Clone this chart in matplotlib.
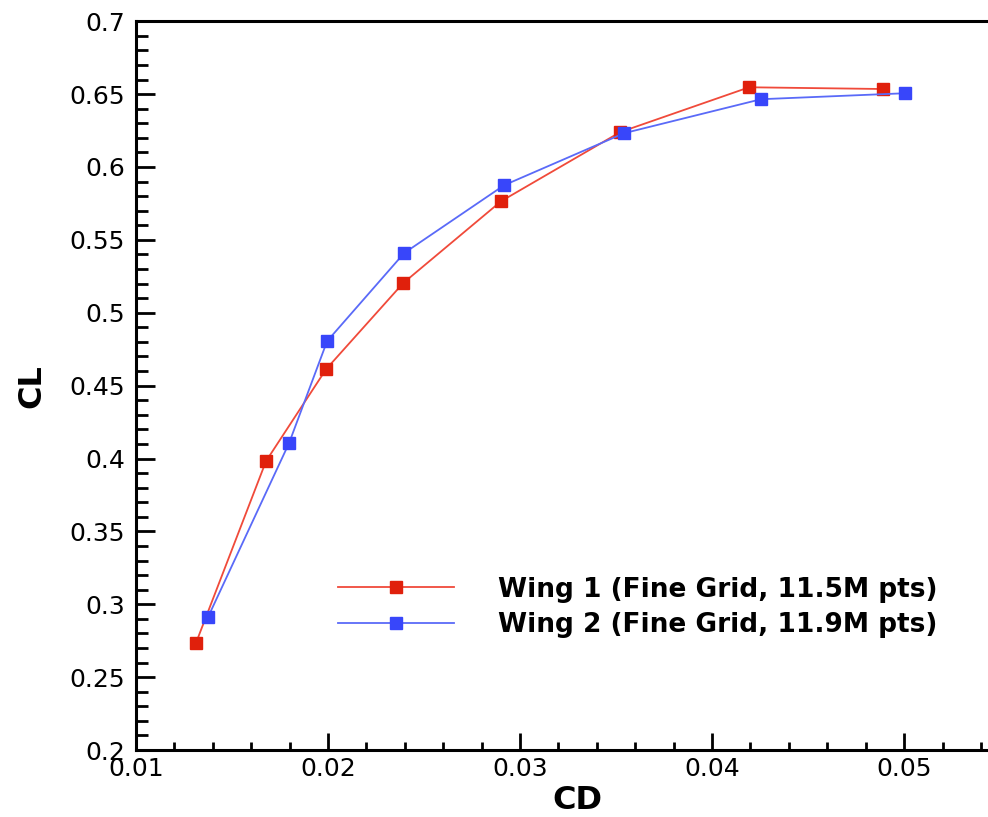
import numpy as np
import matplotlib.pyplot as plt
from matplotlib.ticker import MultipleLocator

# drag polar, two wings on the fine grid
cd_wing1 = [0.01312, 0.01677, 0.01990, 0.02391, 0.02901, 0.03521, 0.04193, 0.04891]
cl_wing1 = [0.2734, 0.3982, 0.4613, 0.5203, 0.5765, 0.6239, 0.6547, 0.6535]
cd_wing2 = [0.01375, 0.01797, 0.01995, 0.02396, 0.02917, 0.03542, 0.04255, 0.05005]
cl_wing2 = [0.2912, 0.4106, 0.4805, 0.5409, 0.5875, 0.6232, 0.6465, 0.6506]

label1 = 'Wing 1 (Fine Grid, 11.5M pts)'
label2 = 'Wing 2 (Fine Grid, 11.9M pts)'

plt.rcParams['font.family'] = ['DejaVu Sans']

fig = plt.figure(figsize=(9.88, 8.17), dpi=100)
ax = fig.add_axes([0.1377, 0.082, 0.894, 0.892])

ax.plot(cd_wing1, cl_wing1, color='#f04a3a', lw=1.3, marker='s', ms=8.5,
        mfc='#e0200c', mec='#e0200c', label=label1)
ax.plot(cd_wing2, cl_wing2, color='#5a6af8', lw=1.3, marker='s', ms=8.5,
        mfc='#3846fa', mec='#3846fa', label=label2)

ax.set_xlim(0.01, 0.056)
ax.set_ylim(0.2, 0.7)
ax.xaxis.set_major_locator(MultipleLocator(0.01))
ax.xaxis.set_minor_locator(MultipleLocator(0.002))
ax.yaxis.set_major_locator(MultipleLocator(0.05))
ax.yaxis.set_minor_locator(MultipleLocator(0.01))
ax.set_xticklabels([f'{v:g}' for v in ax.get_xticks()])
ax.set_yticklabels([f'{v:g}' for v in ax.get_yticks()])

ax.tick_params(axis='both', which='both', direction='in', width=2,
               labelsize=18, top=False, right=False)
ax.tick_params(axis='y', which='major', length=14, pad=8)
ax.tick_params(axis='y', which='minor', length=8.5)
ax.tick_params(axis='x', which='major', length=12, pad=5)
ax.tick_params(axis='x', which='minor', length=6)
for s in ax.spines.values():
    s.set_linewidth(2.2)

ax.set_xlabel('CD', fontsize=23, fontweight='bold', labelpad=3)
ax.set_ylabel('CL', fontsize=23, fontweight='bold', labelpad=16)

ax.legend(loc='center left', bbox_to_anchor=(0.214, 0.196), frameon=False,
          prop={'weight': 'bold', 'size': 19}, handlelength=4.4,
          handletextpad=1.65, labelspacing=0.35, borderpad=0)

fig.savefig('out.png', dpi=100)
